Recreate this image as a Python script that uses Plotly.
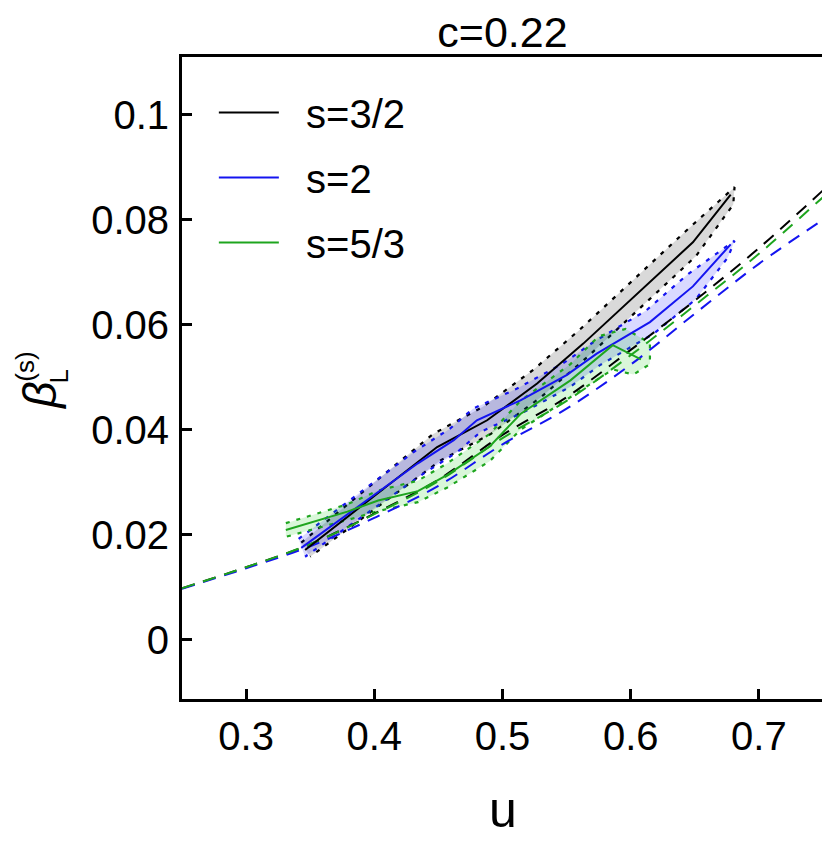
import plotly.graph_objects as go

# theory curves (dashed)
u_theory = [0.25, 0.30, 0.35, 0.40, 0.45, 0.50, 0.55, 0.60, 0.65, 0.70, 0.75]
beta_theory_32 = [0.0098, 0.0138, 0.0182, 0.0240, 0.0305, 0.0390, 0.0462, 0.0552, 0.0646, 0.0746, 0.0856]
beta_theory_53 = [0.0098, 0.0138, 0.0182, 0.0239, 0.0302, 0.0384, 0.0455, 0.0542, 0.0637, 0.0735, 0.0843]
beta_theory_2 = [0.0097, 0.0136, 0.0178, 0.0232, 0.0293, 0.0372, 0.0440, 0.0524, 0.0621, 0.0716, 0.0800]

# s=3/2 measurement and its band
u_32 = [0.346, 0.449, 0.488, 0.527, 0.563, 0.6485, 0.678]
beta_32 = [0.0171, 0.0367, 0.0418, 0.0488, 0.0564, 0.0757, 0.0848]
u_32_hi = [0.343, 0.446, 0.485, 0.524, 0.560, 0.645, 0.681]
beta_32_hi = [0.0185, 0.0392, 0.0444, 0.0514, 0.0590, 0.0783, 0.0862]
u_32_lo = [0.350, 0.452, 0.491, 0.530, 0.566, 0.651, 0.680]
beta_32_lo = [0.0158, 0.0342, 0.0392, 0.0462, 0.0538, 0.0731, 0.0829]

# s=2
u_2 = [0.343, 0.434, 0.462, 0.480, 0.514, 0.550, 0.5735, 0.615, 0.6485, 0.678]
beta_2 = [0.0175, 0.0336, 0.0380, 0.0418, 0.0456, 0.0504, 0.0545, 0.0605, 0.0673, 0.0753]
u_2_hi = [0.341, 0.431, 0.459, 0.477, 0.511, 0.547, 0.571, 0.612, 0.645, 0.681]
beta_2_hi = [0.0192, 0.0358, 0.0402, 0.0440, 0.0478, 0.0526, 0.0567, 0.0627, 0.0697, 0.0760]
u_2_lo = [0.346, 0.437, 0.465, 0.483, 0.517, 0.553, 0.576, 0.618, 0.651, 0.676]
beta_2_lo = [0.0158, 0.0314, 0.0358, 0.0396, 0.0434, 0.0482, 0.0523, 0.0583, 0.0649, 0.0729]

# s=5/3
u_53 = [0.331, 0.379, 0.403, 0.434, 0.457, 0.490, 0.514, 0.553, 0.586, 0.608]
beta_53 = [0.0209, 0.0244, 0.0265, 0.0283, 0.0314, 0.0368, 0.0430, 0.0494, 0.0561, 0.0534]
u_53_hi = [0.331, 0.379, 0.403, 0.434, 0.457, 0.490, 0.514, 0.553, 0.575, 0.596, 0.615]
beta_53_hi = [0.0222, 0.0258, 0.0284, 0.0303, 0.0336, 0.0392, 0.0455, 0.0525, 0.0578, 0.0592, 0.0565]
u_53_lo = [0.331, 0.379, 0.403, 0.434, 0.457, 0.490, 0.514, 0.553, 0.586, 0.602, 0.615]
beta_53_lo = [0.0196, 0.0228, 0.0245, 0.0262, 0.0290, 0.0340, 0.0400, 0.0462, 0.0515, 0.0505, 0.0525]

x_ticks = [0.3, 0.4, 0.5, 0.6, 0.7]
x_ticktext = ["0.3", "0.4", "0.5", "0.6", "0.7"]
y_ticks = [0, 0.02, 0.04, 0.06, 0.08, 0.1]
y_ticktext = ["0", "0.02", "0.04", "0.06", "0.08", "0.1"]

BLACK = "#000000"
BLUE = "rgb(20,20,240)"
GREEN = "rgb(30,165,30)"
FONT = "Liberation Sans, Arial, sans-serif"

# the page body adds an 8px margin, so the figure is drawn 8px smaller
W, H, PAD = 830, 841, 8
PLOT_L, PLOT_R, PLOT_T, PLOT_B = 182, 826, 57, 699  # plot frame in page pixels


def px(x):
    return (x - PLOT_L) / (PLOT_R - PLOT_L)


def py(y):
    return (PLOT_B - y) / (PLOT_B - PLOT_T)


series = [
    ("s=3/2", BLACK, "rgba(0,0,0,0.15)", u_32, beta_32, u_32_hi, beta_32_hi, u_32_lo, beta_32_lo),
    ("s=2", BLUE, "rgba(0,0,255,0.15)", u_2, beta_2, u_2_hi, beta_2_hi, u_2_lo, beta_2_lo),
    ("s=5/3", GREEN, "rgba(0,200,0,0.15)", u_53, beta_53, u_53_hi, beta_53_hi, u_53_lo, beta_53_lo),
]

fig = go.Figure()

# shaded bands with dotted outline
for name, col, fill, u, b, uh, bh, ul, bl in series:
    fig.add_trace(go.Scatter(x=uh + ul[::-1], y=bh + bl[::-1], mode="lines", fill="toself",
                             fillcolor=fill, line=dict(color=col, width=2.2, dash="4px,7px"),
                             showlegend=False, hoverinfo="skip"))

# dashed theory curves
for col, b in [(BLACK, beta_theory_32), (BLUE, beta_theory_2), (GREEN, beta_theory_53)]:
    fig.add_trace(go.Scatter(x=u_theory, y=b, mode="lines", line_shape="spline",
                             line=dict(color=col, width=2, dash="13px,9px"),
                             showlegend=False, hoverinfo="skip"))

# measured lines
for i, (name, col, fill, u, b, *_rest) in enumerate(series):
    fig.add_trace(go.Scatter(x=u, y=b, mode="lines", name="\u00a0\u00a0" + name, legendgroup=f"g{i}",
                             line=dict(color=col, width=2)))

fig.update_layout(
    width=W - PAD, height=H - PAD,
    margin=dict(l=PLOT_L - PAD, r=W - PLOT_R, t=PLOT_T - PAD, b=H - PLOT_B),
    paper_bgcolor="white", plot_bgcolor="white",
    font=dict(family=FONT, color="black"),
    title=dict(text="c=0.22", font=dict(size=43, family=FONT, color="black"),
               x=0.5, xref="paper", xanchor="center", y=1 - 24 / (H - PAD), yanchor="middle"),
    legend=dict(x=px(214), y=py(80), xanchor="left", yanchor="top", font=dict(size=40),
                bgcolor="rgba(0,0,0,0)", tracegroupgap=10, itemwidth=60),
    xaxis=dict(range=[0.25, 0.75], tickvals=x_ticks, ticktext=x_ticktext,
               ticks="inside", ticklen=10, tickwidth=3, tickcolor="black",
               showline=True, linewidth=3, linecolor="black", mirror=True,
               showgrid=False, zeroline=False, tickfont=dict(size=40),
               ticklabelstandoff=0),
    yaxis=dict(range=[-0.0113, 0.111], tickvals=y_ticks, ticktext=y_ticktext,
               ticks="inside", ticklen=10, tickwidth=3, tickcolor="black",
               showline=True, linewidth=3, linecolor="black", mirror=True,
               showgrid=False, zeroline=False, tickfont=dict(size=40),
               ticklabelstandoff=2),
)

# axis labels
fig.add_annotation(text="u", xref="paper", yref="paper", x=0.5, y=py(810),
                   xanchor="center", yanchor="middle", showarrow=False, font=dict(size=50))
fig.add_annotation(text="<i>β</i>", xref="paper", yref="paper", x=px(39), y=py(396),
                   xanchor="center", yanchor="middle", textangle=-90,
                   showarrow=False, font=dict(size=46))
fig.add_annotation(text="L", xref="paper", yref="paper", x=px(58), y=py(377),
                   xanchor="center", yanchor="middle", textangle=-90,
                   showarrow=False, font=dict(size=26))
fig.add_annotation(text="(s)", xref="paper", yref="paper", x=px(24), y=py(367),
                   xanchor="center", yanchor="middle", textangle=-90,
                   showarrow=False, font=dict(size=26))

fig.write_html("out.html")
